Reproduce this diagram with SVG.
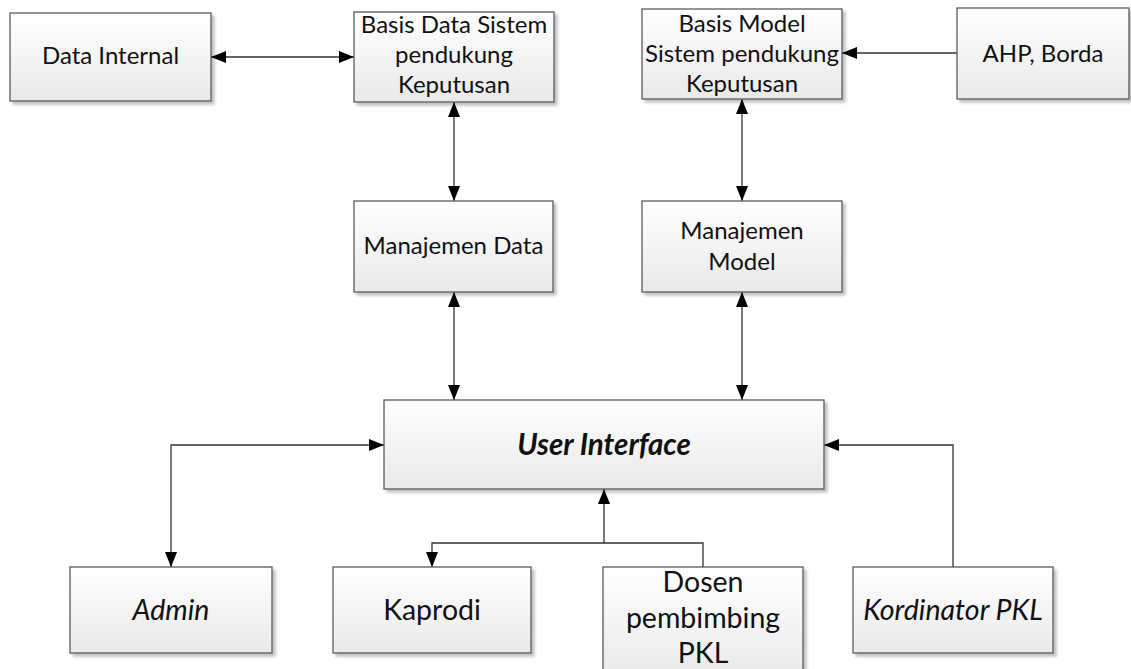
<svg xmlns="http://www.w3.org/2000/svg" width="1131" height="669" viewBox="0 0 1131 669">
<style>
.box{fill:url(#g);stroke:#5a5a5a;stroke-width:1.3;filter:url(#sh)}
.t{font-family:Lato,"Noto Sans",sans-serif;font-size:24px;fill:#111;text-anchor:middle}
.b{font-size:28.5px}
.i{font-style:italic}
.ui{font-size:29.5px;font-weight:bold;font-style:italic}
.c{fill:none;stroke:#333;stroke-width:1.3}
.a2{marker-start:url(#ah);marker-end:url(#ah)}
.a1{marker-end:url(#ah)}
</style>
<defs>
<linearGradient id="g" x1="0" y1="0" x2="0" y2="1">
<stop offset="0" stop-color="#ffffff"/>
<stop offset="1" stop-color="#e9e9e9"/>
</linearGradient>
<filter id="sh" x="-10%" y="-10%" width="130%" height="130%">
<feGaussianBlur in="SourceAlpha" stdDeviation="1.5"/>
<feOffset dx="3" dy="3" result="o"/>
<feComponentTransfer><feFuncA type="linear" slope="0.25"/></feComponentTransfer>
<feMerge><feMergeNode/><feMergeNode in="SourceGraphic"/></feMerge>
</filter>
<marker id="ah" markerUnits="userSpaceOnUse" markerWidth="16" markerHeight="12" refX="15" refY="6" orient="auto-start-reverse">
<path d="M0,0 L15,6 L0,12 z" fill="#000"/>
</marker>
</defs>
<rect width="1131" height="669" fill="#fff"/>
<g id="connectors">
<path class="c a2" d="M211,57 H354"/>
<path class="c a1" d="M957,53 H842"/>
<path class="c a2" d="M454,102 V201"/>
<path class="c a2" d="M742,99 V201"/>
<path class="c a2" d="M454,292 V400"/>
<path class="c a2" d="M742,292 V400"/>
<path class="c a2" d="M384,445 H171 V567"/>
<path class="c a1" d="M604,543 H432 V567"/>
<path class="c a1" d="M703,567 V543 H604 V489"/>
<path class="c a1" d="M953,567 V445 H824"/>
</g>
<g id="data-internal">
<rect class="box" x="10" y="13" width="201" height="88"/>
<text class="t" x="110.5" y="64">Data Internal</text>
</g>
<g id="basis-data">
<rect class="box" x="354" y="12" width="200" height="90"/>
<text class="t" x="454" y="33">Basis Data Sistem</text>
<text class="t" x="454" y="63">pendukung</text>
<text class="t" x="454" y="93">Keputusan</text>
</g>
<g id="basis-model">
<rect class="box" x="642" y="9" width="200" height="90"/>
<text class="t" x="742" y="32">Basis Model</text>
<text class="t" x="742" y="62">Sistem pendukung</text>
<text class="t" x="742" y="92">Keputusan</text>
</g>
<g id="ahp-borda">
<rect class="box" x="957" y="8" width="172" height="91"/>
<text class="t" x="1043" y="62">AHP, Borda</text>
</g>
<g id="manajemen-data">
<rect class="box" x="354" y="201" width="199" height="91"/>
<text class="t" x="453.5" y="254">Manajemen Data</text>
</g>
<g id="manajemen-model">
<rect class="box" x="642" y="201" width="200" height="91"/>
<text class="t" x="742" y="239">Manajemen</text>
<text class="t" x="742" y="270">Model</text>
</g>
<g id="user-interface">
<rect class="box" x="384" y="400" width="440" height="89"/>
<text class="t ui" x="604" y="455">User Interface</text>
</g>
<g id="admin">
<rect class="box" x="70" y="567" width="202" height="86"/>
<text class="t b i" x="171" y="620">Admin</text>
</g>
<g id="kaprodi">
<rect class="box" x="333" y="567" width="198" height="86"/>
<text class="t b" x="432" y="620">Kaprodi</text>
</g>
<g id="dosen">
<rect class="box" x="603" y="567" width="200" height="112"/>
<text class="t b" x="703" y="592">Dosen</text>
<text class="t b" x="703" y="628">pembimbing</text>
<text class="t b" x="703" y="663">PKL</text>
</g>
<g id="kordinator">
<rect class="box" x="853" y="567" width="200" height="86"/>
<text class="t b i" x="953" y="620">Kordinator PKL</text>
</g>
</svg>
